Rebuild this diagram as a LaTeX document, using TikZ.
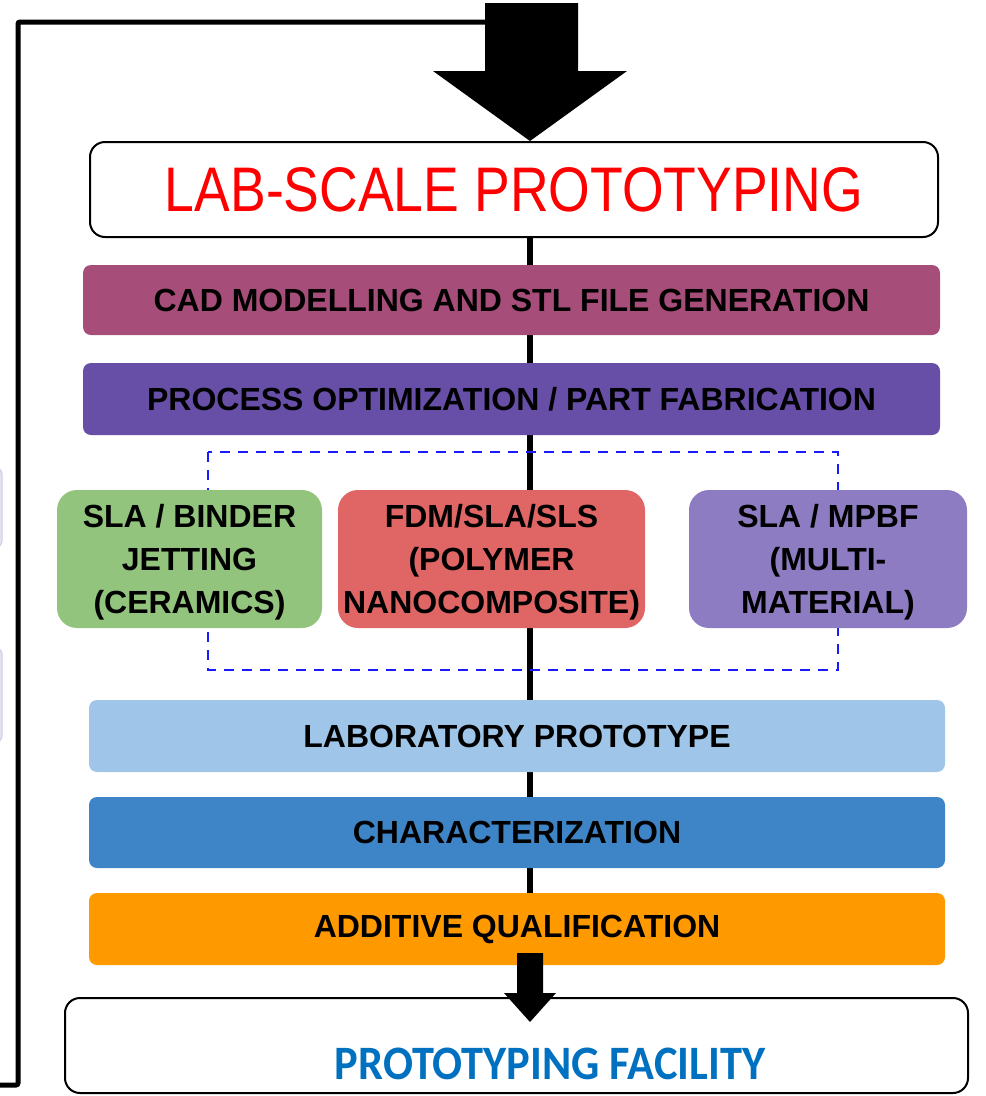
\documentclass[tikz,border=0pt]{standalone}
\usepackage{fontspec}
\setmainfont{Liberation Sans}
\newfontfamily\carl{Carlito}
\usetikzlibrary{calc,backgrounds}
\definecolor{cadc}{HTML}{A64D79}
\definecolor{procc}{HTML}{674EA7}
\definecolor{greenc}{HTML}{93C47D}
\definecolor{redc}{HTML}{E06666}
\definecolor{purpc}{HTML}{8E7CC3}
\definecolor{labc}{HTML}{9FC5E8}
\definecolor{charc}{HTML}{3D85C6}
\definecolor{qualc}{HTML}{FF9900}
\definecolor{facc}{HTML}{0070C0}
\definecolor{dashc}{HTML}{1A1AFF}
\definecolor{slivc}{HTML}{E6E1F2}
\definecolor{slivd}{HTML}{D2CAE8}
\tikzset{
  bar/.style={draw=none, rounded corners=8pt, inner sep=0pt, minimum width=857pt,
    font=\fontsize{32}{42}\selectfont\bfseries},
  tri/.style={draw=none, rounded corners=20pt, inner sep=0pt, minimum height=138pt,
    align=center, font=\fontsize{32}{43}\selectfont\bfseries},
  outline/.style={draw=black, line width=2pt, fill=white, rounded corners=15pt, inner sep=0pt},
  bigarrow/.style={fill=black, draw=none},
  fbline/.style={line width=5pt, rounded corners=2pt},
  spineline/.style={line width=6pt},
  dashbox/.style={draw=dashc, line width=2pt, dash pattern=on 10pt off 8pt}
}
\begin{document}
\begin{tikzpicture}[x=1pt,y=-1pt]
\useasboundingbox (0,0) rectangle (986,1096);
% faint partial shapes at left edge
\fill[slivc, draw=slivd, line width=1pt, rounded corners=6pt] (-20,468) rectangle (2,547);
\fill[slivc, draw=slivd, line width=1pt, rounded corners=6pt] (-20,648) rectangle (2,742);

\node[outline, minimum width=848pt, minimum height=95pt] (title) at (514,189.5)
  {\fontsize{63}{70}\selectfont\color{red}\scalebox{0.85}[1]{LAB-SCALE PROTOTYPING}};
\node[bar, fill=cadc, minimum height=70pt] (cad) at (511.5,300) {CAD MODELLING AND STL FILE GENERATION};
\node[bar, fill=procc, minimum height=72pt] (proc) at (511.5,399) {PROCESS OPTIMIZATION / PART FABRICATION};
\node[tri, fill=greenc, minimum width=265pt] (cer) at (189.5,559) {};
\node[tri, fill=redc, minimum width=307pt] (poly) at (491.5,559) {};
\node[tri, fill=purpc, minimum width=278pt] (multi) at (828,559) {};
\node[tri, minimum height=0pt] at ($(cer.center)+(0,3)$) {SLA / BINDER\\JETTING\\(CERAMICS)};
\node[tri, minimum height=0pt] at ($(poly.center)+(0,3)$) {FDM/SLA/SLS\\(POLYMER\\NANOCOMPOSITE)};
\node[tri, minimum height=0pt] at ($(multi.center)+(0,3)$) {SLA / MPBF\\(MULTI-\\MATERIAL)};
\node[bar, fill=labc, minimum width=856pt, minimum height=72pt] (lab) at (517,736) {LABORATORY PROTOTYPE};
\node[bar, fill=charc, minimum width=856pt, minimum height=71pt] (char) at (517,832.5) {CHARACTERIZATION};
\node[bar, fill=qualc, minimum width=856pt, minimum height=72pt] (qual) at (517,929) {ADDITIVE QUALIFICATION};
\node[outline, minimum width=903pt, minimum height=95pt] (fac) at (516.5,1045.5) {};
\node[inner sep=0pt, font=\carl\bfseries\fontsize{48}{56}\selectfont, text=facc] (factext) at (550,1064)
  {\scalebox{0.925}[1]{PROTOTYPING FACILITY}};

\coordinate (spine) at (530,0);
\coordinate (dashA) at (208,452);
\coordinate (dashB) at (838,670);
\begin{scope}[on background layer]
  \draw[spineline] (title.south -| spine) -- (qual.north -| spine);
  \draw[dashbox] (dashA) rectangle (dashB);
\end{scope}

% big arrow into title
\coordinate (tip) at (title.north -| spine);
\fill[bigarrow] ($(tip)+(-45,-138)$) -- ($(tip)+(48,-138)$) -- ($(tip)+(48,-70)$) -- ($(tip)+(97,-70)$)
  -- (tip) -- ($(tip)+(-97,-70)$) -- ($(tip)+(-45,-70)$) -- cycle;

% feedback line
\coordinate (fbstart) at (0,1085);
\coordinate (fbcorner) at (18,1085);
\coordinate (fbend) at (486,22);
\draw[fbline] (fbstart) -- (fbcorner) |- (fbend);

% small arrow to facility
\coordinate (tip2) at (530,1022);
\fill[bigarrow] ($(tip2)+(-13,-69)$) -- ($(tip2)+(13,-69)$) -- ($(tip2)+(13,-29)$) -- ($(tip2)+(26,-29)$)
  -- (tip2) -- ($(tip2)+(-26,-29)$) -- ($(tip2)+(-13,-29)$) -- cycle;
\end{tikzpicture}
\end{document}
